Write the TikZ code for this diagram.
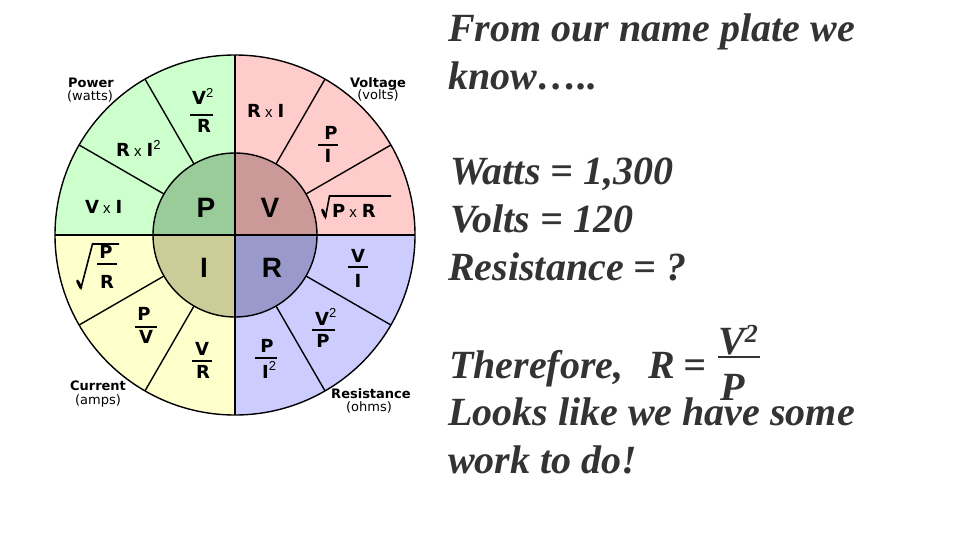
\documentclass[tikz,border=0pt]{standalone}
\usepackage{fontspec}
\setmainfont{Liberation Serif}
\newfontfamily\lsans{Liberation Sans}
\newfontfamily\dsans{DejaVu Sans}
\definecolor{cGo}{HTML}{CCFFCC}\definecolor{cGi}{HTML}{99CC99}
\definecolor{cPo}{HTML}{FFCCCC}\definecolor{cPi}{HTML}{CC9999}
\definecolor{cYo}{HTML}{FFFFCC}\definecolor{cYi}{HTML}{CCCC99}
\definecolor{cBo}{HTML}{CCCCFF}\definecolor{cBi}{HTML}{9999CC}
\definecolor{txt}{HTML}{333333}
\newcommand\sq{\raisebox{0.42em}{\lsans\mdseries\fontsize{13}{13}\selectfont 2}}
\newcommand\xx{\hspace{4pt}{\lsans\mdseries\fontsize{15}{15}\selectfont x}\hspace{5pt}}
\begin{document}
\begin{tikzpicture}[x=1pt,y=-1pt,
  wheel/.style={line width=1.4pt,black},
  fbar/.style={line width=2.4pt,black},
  seg/.style={font=\dsans\bfseries\fontsize{18}{18}\selectfont,inner sep=0pt},
  big/.style={font=\lsans\bfseries\fontsize{28}{28}\selectfont,inner sep=0pt,anchor=base},
  qname/.style={font=\dsans\bfseries\fontsize{13}{13}\selectfont,inner sep=0pt,anchor=base},
  qunit/.style={font=\dsans\fontsize{13}{13}\selectfont,inner sep=0pt,anchor=base},
  rt/.style={font=\bfseries\itshape\fontsize{40}{40}\selectfont,text=txt,inner sep=0pt,anchor=base west}]
\useasboundingbox (0,0) rectangle (960,540);
\fill[white] (0,0) rectangle (960,540);
% quadrant fills
\begin{scope}\clip (55,55) rectangle (235,235);
 \fill[cGo] (235,235) circle[radius=180]; \fill[cGi] (235,235) circle[radius=82];\end{scope}
\begin{scope}\clip (235,55) rectangle (415,235);
 \fill[cPo] (235,235) circle[radius=180]; \fill[cPi] (235,235) circle[radius=82];\end{scope}
\begin{scope}\clip (55,235) rectangle (235,415);
 \fill[cYo] (235,235) circle[radius=180]; \fill[cYi] (235,235) circle[radius=82];\end{scope}
\begin{scope}\clip (235,235) rectangle (415,415);
 \fill[cBo] (235,235) circle[radius=180]; \fill[cBi] (235,235) circle[radius=82];\end{scope}
% lines
\draw[wheel] (235,235) circle[radius=180];
\draw[wheel] (235,235) circle[radius=82];
\draw[wheel] (55,235) -- (415,235);
\draw[wheel] (235,55) -- (235,415);
\foreach \a in {30,60,120,150,210,240,300,330}
  \draw[wheel] ({235+82*cos(\a)},{235+82*sin(\a)}) -- ({235+180*cos(\a)},{235+180*sin(\a)});
% Power quadrant
\node[qname] (pw) at (91,88) {Power};
\node[qunit] (pwu) at (90,101) {(watts)};
\node[seg,anchor=base west] (pv2) at (192,105) {V\sq};
\draw[fbar] (190,115) -- (213,115);
\node[seg,anchor=base] (pr) at (204,133) {R};
\node[seg,anchor=base west] (rxi2) at (116,157) {R\xx I\sq};
\node[seg,anchor=base west] (vxi) at (85,213) {V\xx I};
\node[big] (cP) at (206,217) {P};
% Voltage quadrant
\node[qname] (vo) at (378,88) {Voltage};
\node[qunit] (vou) at (378,100) {(volts)};
\node[seg,anchor=base west] (rxi) at (247,118) {R\xx I};
\node[seg,anchor=base] (vp) at (331,140) {P};
\draw[fbar] (318,145) -- (338,145);
\node[seg,anchor=base] (vi) at (328,163) {I};
\node[seg,anchor=base west] (pxr) at (332,217) {P\xx R};
\draw[line width=1.6pt,line join=miter] (322,209) -- (325.5,217) -- (329.5,196) -- (391,196);
\draw[line width=3pt] (322.5,210) -- (325.5,217);
\node[big] (cV) at (270,217) {V};
% Current quadrant
\node[qname] (cu) at (98,390) {Current};
\node[qunit] (cuu) at (98,404) {(amps)};
\node[seg,anchor=base] (ip) at (106,258) {P};
\draw[fbar] (97,264) -- (117,264);
\node[seg,anchor=base] (ir) at (107,288) {R};
\draw[line width=1.6pt,line join=miter] (77,280) -- (81,288) -- (92.5,244) -- (119,244);
\draw[line width=3pt] (77.5,281) -- (81,288);
\node[seg,anchor=base] (ip2) at (144,320) {P};
\draw[fbar] (135,327) -- (157,327);
\node[seg,anchor=base] (iv) at (146,343) {V};
\node[seg,anchor=base] (iv2) at (202,355) {V};
\draw[fbar] (192,361) -- (212,361);
\node[seg,anchor=base] (ir2) at (203,378) {R};
\node[big] (cI) at (204,277) {I};
% Resistance quadrant
\node[qname] (re) at (371,398) {Resistance};
\node[qunit] (reu) at (369,411) {(ohms)};
\node[seg,anchor=base] (rv) at (358,262) {V};
\draw[fbar] (348,267) -- (368,267);
\node[seg,anchor=base] (ri) at (358,287) {I};
\node[seg,anchor=base west] (rv2) at (315,325) {V\sq};
\draw[fbar] (312,330) -- (335,330);
\node[seg,anchor=base] (rp) at (323,347) {P};
\node[seg,anchor=base] (rp2) at (267,352) {P};
\draw[fbar] (255,358) -- (277,358);
\node[seg,anchor=base west] (ri2) at (262,378) {I\sq};
\node[big] (cR) at (272,277) {R};
% right text
\node[rt] (t1) at (448,42) {From our name plate we};
\node[rt] (t2) at (448,90) {know…..};
\node[rt] (t3) at (450,185) {Watts = 1,300};
\node[rt] (t4) at (450,232) {Volts = 120};
\node[rt] (t5) at (448,280) {Resistance = ?};
\node[rt] (t6) at (449,378) {Therefore,};
\node[rt] (t7) at (648,378) {R};
\node[rt] (t8) at (683,378) {=};
\node[rt] (t9) at (718,354) {V\raisebox{0.3em}{\fontsize{26}{26}\selectfont 2}};
\draw[txt,line width=2.6pt] (718,357) -- (760,357);
\node[rt] (t10) at (720,400) {P};
\node[rt] (t11) at (448,425) {Looks like we have some};
\node[rt] (t12) at (448,473) {work to do!};
\end{tikzpicture}
\end{document}
